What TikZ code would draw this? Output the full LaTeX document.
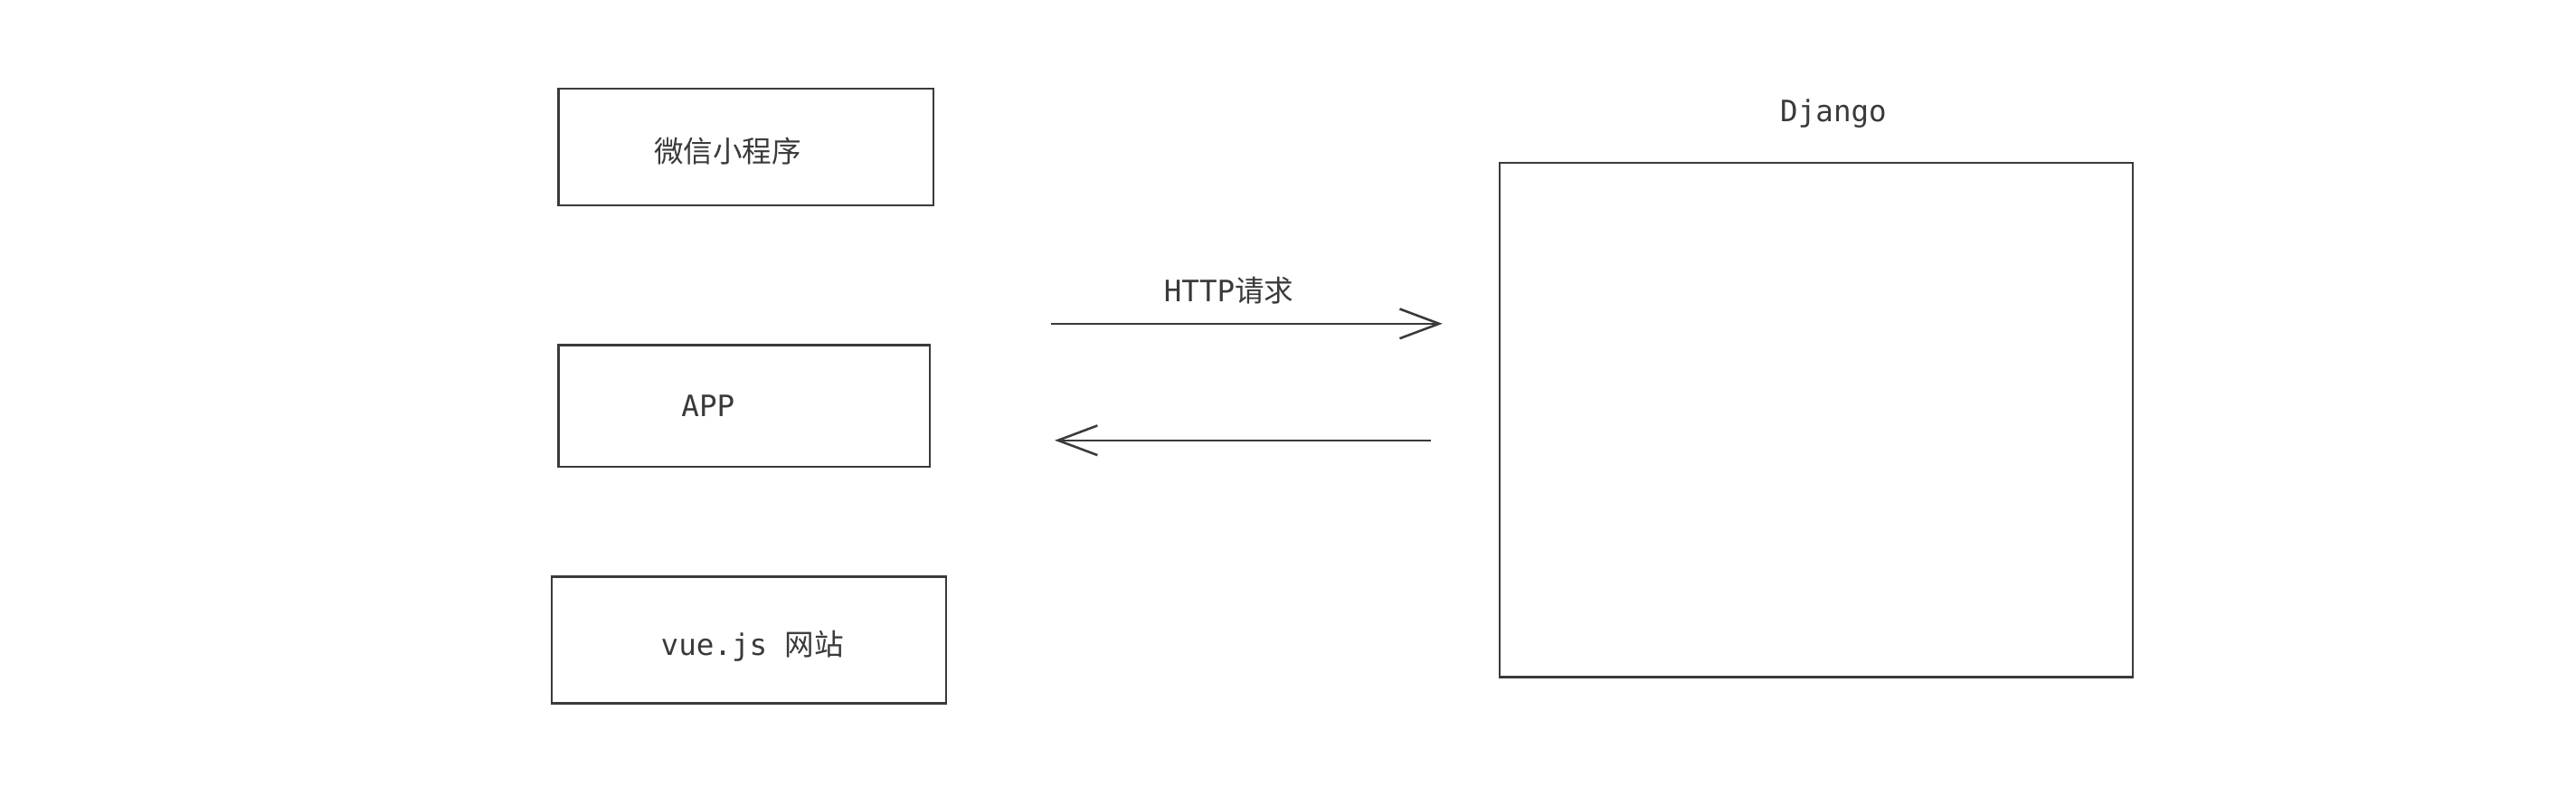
\documentclass[tikz,border=0pt]{standalone}
\usepackage{fontspec}
\setmainfont{DejaVu Sans Mono}
\newfontfamily\cjk{Noto Sans CJK SC}
\usetikzlibrary{arrows.meta}
\definecolor{ink}{HTML}{3A3A3A}
\tikzset{
	sketchbox/.style={draw=ink, line width=0.35pt, minimum width=#1},
	label/.style={text=ink, font=\fontsize{5.1}{6}\selectfont},
	flow/.style={draw=ink, line width=0.4pt, -{Straight Barb[length=2.4mm,width=1.8mm]}}
}
\begin{document}
\begin{tikzpicture}[x=0.01cm,y=-0.01cm]
				%%%%% START %%%%%
				\useasboundingbox (0,0) rectangle (1568,490);
				
				\node[sketchbox=2.28cm, minimum height=0.71cm] (wx) at (454,89.5) {};
				\node[label] at (443,92) {\cjk 微信小程序};
				
				\node[sketchbox=2.26cm, minimum height=0.74cm] (app) at (453,247) {};
				\node[label] at (431,247) {APP};
				
				\node[sketchbox=2.40cm, minimum height=0.77cm] (web) at (456,389.5) {};
				\node[label] at (458,393) {vue.js {\cjk 网站}};
				
				\node[sketchbox=3.85cm, minimum height=3.13cm] (django) at (1105.5,255.5) {};
				\node[label] at (1116,69) {Django};
				
				\coordinate (reqa) at (640,197);
				\coordinate (reqb) at (878,197);
				\coordinate (resa) at (871,268);
				\coordinate (resb) at (642,268);
				\draw[flow] (reqa) -- (reqb);
				\node[label] at (748,177) {HTTP{\cjk 请求}};
				\draw[flow] (resa) -- (resb);
				%%%%% END %%%%%
\end{tikzpicture}
\end{document}
